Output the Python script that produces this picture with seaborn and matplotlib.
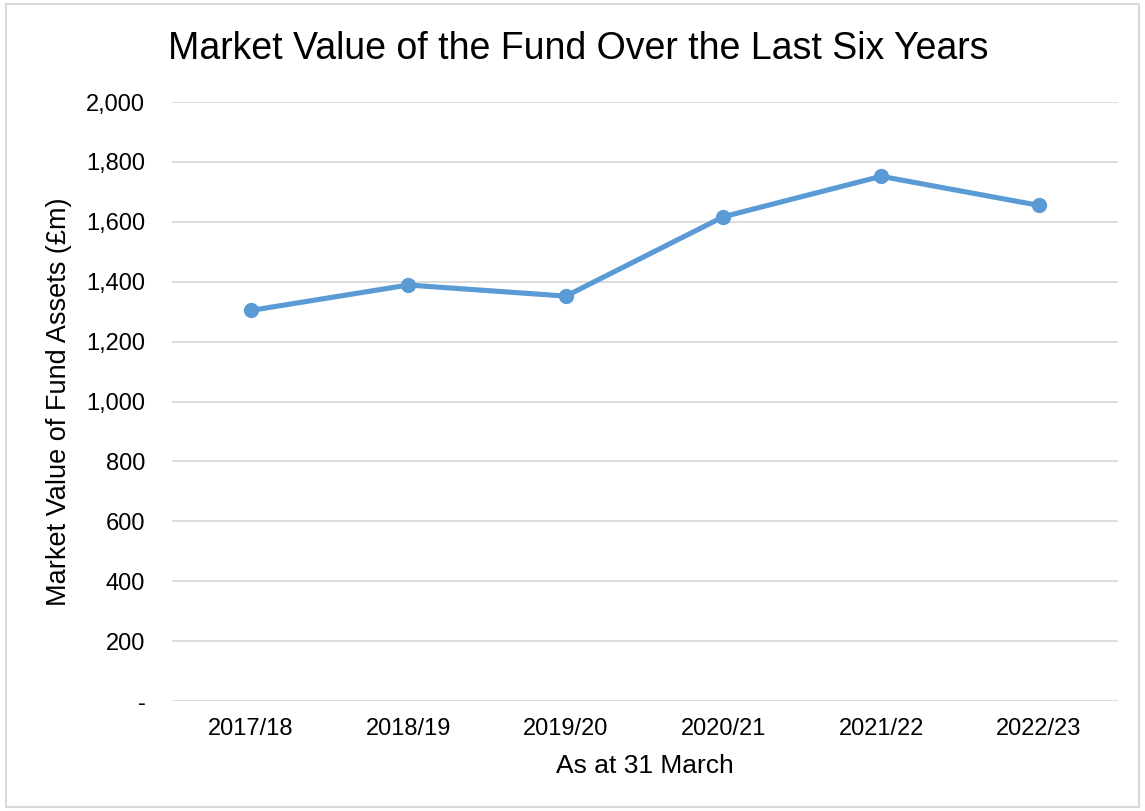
import matplotlib
matplotlib.use("Agg")
import matplotlib.pyplot as plt
import seaborn as sns
import pandas as pd
from matplotlib.patches import Rectangle
from matplotlib.ticker import FuncFormatter

years = ["2017/18", "2018/19", "2019/20", "2020/21", "2021/22", "2022/23"]
values = [1304, 1389, 1352, 1617, 1752, 1655]

df = pd.DataFrame({"Year": years, "Value": values})

sns.set_style("white")
plt.rcParams["font.family"] = ["Liberation Sans", "DejaVu Sans"]
plt.rcParams["text.color"] = "black"
plt.rcParams["axes.labelcolor"] = "black"

fig = plt.figure(figsize=(11.45, 8.11), dpi=100)
# thin grey chart border, inset slightly like the reference
fig.patches.append(Rectangle((6 / 1145, 4 / 811), 1 - 12 / 1145, 1 - 8 / 811,
                             transform=fig.transFigure, fill=False,
                             edgecolor="#D9D9D9", linewidth=1.5))
ax = fig.add_axes([0.150, 0.1356, 0.826, 0.7386])

sns.lineplot(data=df, x="Year", y="Value", ax=ax, color="#5B9BD5",
             linewidth=3.7, marker="o", markersize=11, markeredgewidth=0, sort=False)

ax.set_ylim(0, 2000)
ax.set_yticks(range(0, 2001, 200))
ax.set_xlim(-0.5, 5.5)
ax.yaxis.set_major_formatter(FuncFormatter(lambda v, p: "-" if v == 0 else f"{int(v):,}"))
ax.grid(axis="y", color="#D9D9D9", linewidth=1.3)
ax.set_axisbelow(True)
for s in ax.spines.values():
    s.set_visible(False)
ax.tick_params(axis="both", length=0, labelsize=17, colors="black", pad=12)
ax.tick_params(axis="y", pad=19)

fig.suptitle("Market Value of the Fund Over the Last Six Years", fontsize=27,
             x=0.505, y=0.94, va="center")
ax.set_xlabel("As at 31 March", fontsize=19, labelpad=10)
ax.set_ylabel("Market Value of Fund Assets (£m)", fontsize=19.5, labelpad=10)

fig.savefig("out.png", dpi=100)
